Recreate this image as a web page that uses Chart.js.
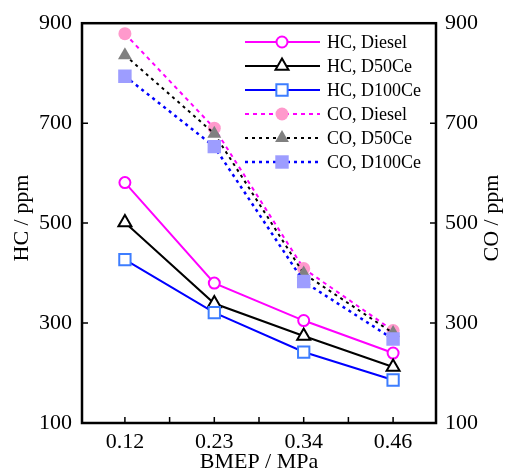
<!DOCTYPE html>
<html><head><meta charset="utf-8">
<script src="https://cdn.jsdelivr.net/npm/chart.js@4"></script>
<style>html,body{margin:0;padding:0;background:#fff}#wrap{width:507px;height:476px;position:relative}</style>
</head><body><div id="wrap"><canvas id="c"></canvas></div>
<script>
const categories = ['0.12', '0.23', '0.34', '0.46'];
const hcDiesel = [581, 380, 305, 240];
const hcD50 = [501, 339, 274, 212];
const hcD100 = [427, 321, 242, 186];
const coDiesel = [879, 690, 409, 285];
const coD50 = [836, 679, 399, 280];
const coD100 = [794, 653, 383, 268];
const yTickValues = [100, 300, 500, 700, 900];
const xTickValues = [0, 0.5, 1, 1.5, 2, 2.5, 3];
const seriesNames = ['HC, Diesel', 'HC, D50Ce', 'HC, D100Ce', 'CO, Diesel', 'CO, D50Ce', 'CO, D100Ce'];
const axisTitles = {x: 'BMEP / MPa', y: 'HC / ppm', y2: 'CO / ppm'};

const FONT = '"Liberation Serif", "Times New Roman", serif';
const pts = arr => arr.map((v, i) => ({x: i, y: v}));

const datasets = [
  {label: seriesNames[0], data: pts(hcDiesel), yAxisID: 'y', borderColor: '#ff00ff', borderWidth: 2,
   pointStyle: 'circle', pointRadius: 5.5, pointBorderWidth: 2, pointBorderColor: '#ff00ff', pointBackgroundColor: '#ffffff', order: 6},
  {label: seriesNames[1], data: pts(hcD50), yAxisID: 'y', borderColor: '#000000', borderWidth: 2,
   pointStyle: 'triangle', pointRadius: 7.5, pointBorderWidth: 2, pointBorderColor: '#000000', pointBackgroundColor: '#ffffff', order: 5},
  {label: seriesNames[2], data: pts(hcD100), yAxisID: 'y', borderColor: '#0000ff', borderWidth: 2,
   pointStyle: 'rect', pointRadius: 8, pointBorderWidth: 2, pointBorderColor: '#3d7dff', pointBackgroundColor: '#ffffff', order: 4},
  {label: seriesNames[3], data: pts(coDiesel), yAxisID: 'y2', borderColor: '#ff00ff', borderWidth: 2, borderDash: [4, 4],
   pointStyle: 'circle', pointRadius: 6.5, pointBorderWidth: 0, pointBackgroundColor: '#ff99cc', pointBorderColor: '#ff99cc', order: 3},
  {label: seriesNames[4], data: pts(coD50), yAxisID: 'y2', borderColor: '#000000', borderWidth: 2, borderDash: [3, 4],
   pointStyle: 'triangle', pointRadius: 8, pointBorderWidth: 0, pointBackgroundColor: '#808080', pointBorderColor: '#808080', order: 2},
  {label: seriesNames[5], data: pts(coD100), yAxisID: 'y2', borderColor: '#0000ff', borderWidth: 2.5, borderDash: [3, 4],
   pointStyle: 'rect', pointRadius: 9.5, pointBorderWidth: 0, pointBackgroundColor: '#9d9dff', pointBorderColor: '#9d9dff', order: 1}
];
datasets.forEach(d => { d.fill = false; d.tension = 0; d.pointHoverRadius = d.pointRadius; });

function drawMarker(ctx, style, x, y, r, fill, stroke, lw) {
  ctx.save();
  ctx.setLineDash([]);
  ctx.beginPath();
  if (style === 'circle') {
    ctx.arc(x, y, r, 0, Math.PI * 2);
  } else if (style === 'triangle') {
    for (let k = 0; k < 3; k++) {
      const a = -Math.PI / 2 + k * 2 * Math.PI / 3;
      const px = x + Math.cos(a) * r, py = y + Math.sin(a) * r;
      if (k === 0) ctx.moveTo(px, py); else ctx.lineTo(px, py);
    }
    ctx.closePath();
  } else {
    const s = Math.SQRT1_2 * r;
    ctx.rect(x - s, y - s, 2 * s, 2 * s);
  }
  ctx.fillStyle = fill; ctx.fill();
  if (lw > 0) { ctx.lineWidth = lw; ctx.strokeStyle = stroke; ctx.stroke(); }
  ctx.restore();
}

function vTitle(ctx, text, cx, cy) {
  ctx.save();
  ctx.fillStyle = '#000';
  ctx.font = '22px ' + FONT;
  ctx.textAlign = 'center'; ctx.textBaseline = 'middle';
  ctx.translate(cx, cy);
  ctx.rotate(-Math.PI / 2);
  ctx.fillText(text, 0, 0);
  ctx.restore();
}

const framePlugin = {
  id: 'frame',
  afterDatasetsDraw(chart) {
    const ctx = chart.ctx, a = chart.chartArea;
    ctx.save();
    ctx.strokeStyle = '#000'; ctx.lineWidth = 1.5; ctx.setLineDash([]);
    const tl = 6;
    const x = chart.scales.x, y = chart.scales.y, y2 = chart.scales.y2;
    ctx.beginPath();
    x.ticks.forEach(t => { const px = x.getPixelForValue(t.value); ctx.moveTo(px, a.bottom); ctx.lineTo(px, a.bottom - tl); });
    y.ticks.forEach(t => { const py = y.getPixelForValue(t.value); ctx.moveTo(a.left, py); ctx.lineTo(a.left + tl, py); });
    y2.ticks.forEach(t => { const py = y2.getPixelForValue(t.value); ctx.moveTo(a.right, py); ctx.lineTo(a.right - tl, py); });
    ctx.stroke();
    ctx.lineWidth = 2.5;
    ctx.strokeRect(a.left, a.top, a.right - a.left, a.bottom - a.top);
    ctx.restore();
    const midY = (a.top + a.bottom) / 2 - 5;
    vTitle(ctx, axisTitles.y, 22, midY);
    vTitle(ctx, axisTitles.y2, 492, midY);
    // legend
    ctx.save();
    const lx0 = 245, lx1 = 320, mx = 282, tx = 327;
    chart.data.datasets.forEach((d, i) => {
      const ly = 42 + i * 24;
      ctx.beginPath();
      ctx.setLineDash(d.borderDash || []);
      ctx.lineWidth = d.borderWidth; ctx.strokeStyle = d.borderColor;
      ctx.moveTo(lx0, ly); ctx.lineTo(lx1, ly); ctx.stroke();
      drawMarker(ctx, d.pointStyle, mx, ly, d.pointRadius, d.pointBackgroundColor, d.pointBorderColor, d.pointBorderWidth);
      ctx.fillStyle = '#000'; ctx.font = '18px ' + FONT;
      ctx.textAlign = 'left'; ctx.textBaseline = 'middle';
      ctx.fillText(d.label, tx, ly + 1);
    });
    ctx.restore();
  }
};

new Chart(document.getElementById('c'), {
  type: 'line',
  data: {datasets},
  plugins: [framePlugin],
  options: {
    responsive: true, maintainAspectRatio: false, animation: false, devicePixelRatio: 1,
    layout: {padding: {top: 22, bottom: 0, left: 0, right: 0}},
    plugins: {legend: {display: false}, tooltip: {enabled: false}},
    scales: {
      x: {
        type: 'linear', min: -0.48, max: 3.48,
        afterBuildTicks: s => { s.ticks = xTickValues.map(v => ({value: v})); },
        afterFit: s => { s.height = 53; },
        grid: {display: false, drawTicks: false}, border: {display: false},
        ticks: {autoSkip: false, maxRotation: 0, padding: 6, color: '#000', font: {family: FONT, size: 22},
          callback: v => Number.isInteger(v) ? categories[v] : ''},
        title: {display: true, text: axisTitles.x, color: '#000', font: {family: FONT, size: 22}, padding: {top: 0, bottom: 1}}
      },
      y: {
        type: 'linear', position: 'left', min: 100, max: 900,
        afterBuildTicks: s => { s.ticks = yTickValues.map(v => ({value: v})); },
        afterFit: s => { s.width = 82; },
        grid: {display: false, drawTicks: false}, border: {display: false},
        ticks: {padding: 10, color: '#000', font: {family: FONT, size: 22}},
        title: {display: false}
      },
      y2: {
        type: 'linear', position: 'right', min: 100, max: 900,
        afterBuildTicks: s => { s.ticks = yTickValues.map(v => ({value: v})); },
        afterFit: s => { s.width = 71; },
        grid: {display: false, drawTicks: false}, border: {display: false},
        ticks: {padding: 9, color: '#000', font: {family: FONT, size: 22}},
        title: {display: false}
      }
    }
  }
});
</script>
</body></html>
